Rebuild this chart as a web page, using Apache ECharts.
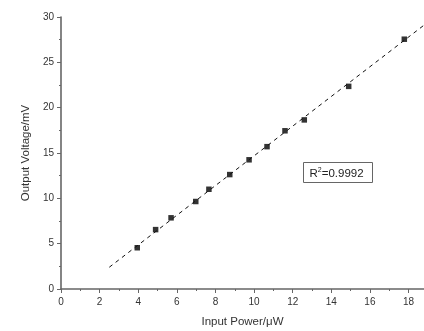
<!DOCTYPE html>
<html><head><meta charset="utf-8">
<script src="https://cdn.jsdelivr.net/npm/echarts@6/dist/echarts.min.js"></script>
<style>html,body{margin:0;padding:0;background:#fff}#c{width:424px;height:331px}</style>
</head><body><div id="c"></div>
<script>
var inputPower = [3.95, 4.9, 5.7, 6.98, 7.66, 8.74, 9.74, 10.67, 11.6, 12.6, 14.9, 17.78];
var outputVoltage = [4.55, 6.55, 7.85, 9.65, 11.0, 12.62, 14.25, 15.7, 17.45, 18.65, 22.35, 27.55];
var fitX = [2.5, 18.8];
var fitY = [2.4, 29.1];
var xTicks = [0, 2, 4, 6, 8, 10, 12, 14, 16, 18];
var yTicks = [0, 5, 10, 15, 20, 25, 30];
var r2Text = '0.9992';

var chart = echarts.init(document.getElementById('c'), null, {renderer: 'canvas'});
var axisCol = '#666';
var font = 'Liberation Sans, Arial, sans-serif';
chart.setOption({
  animation: false,
  grid: {left: 61, right: 0, top: 17, bottom: 42, outerBoundsMode: 'none', containLabel: false},
  xAxis: {
    type: 'value', min: 0, max: 18.8, interval: 2,
    name: 'Input Power/\u03bcW', nameLocation: 'middle', nameGap: 27,
    nameTextStyle: {fontFamily: font, fontSize: 11.5, color: '#333'},
    axisLine: {lineStyle: {color: axisCol, width: 1.6}},
    axisTick: {show: true, length: 4, lineStyle: {color: axisCol, width: 1}},
    minorTick: {show: true, splitNumber: 2, length: 2, lineStyle: {color: axisCol}},
    splitLine: {show: false},
    axisLabel: {fontFamily: font, fontSize: 10, color: '#333', margin: 8,
      formatter: function (v) { return xTicks.indexOf(v) >= 0 ? String(v) : ''; }}
  },
  yAxis: {
    type: 'value', min: 0, max: 30, interval: 5,
    name: 'Output Voltage/mV', nameLocation: 'middle', nameGap: 28,
    nameTextStyle: {fontFamily: font, fontSize: 11.5, color: '#333'},
    axisLine: {show: true, lineStyle: {color: axisCol, width: 1.6}},
    axisTick: {show: true, length: 4, lineStyle: {color: axisCol, width: 1}},
    minorTick: {show: true, splitNumber: 2, length: 2, lineStyle: {color: axisCol}},
    splitLine: {show: false},
    axisLabel: {fontFamily: font, fontSize: 10, color: '#333', margin: 7,
      formatter: function (v) { return yTicks.indexOf(v) >= 0 ? String(v) : ''; }}
  },
  series: [
    {
      type: 'line', data: fitX.map(function (x, i) { return [x, fitY[i]]; }),
      showSymbol: false, symbol: 'none', silent: true, clip: false,
      lineStyle: {color: '#111', width: 1, type: [4, 4]}
    },
    {
      type: 'scatter', data: inputPower.map(function (x, i) { return [x, outputVoltage[i]]; }),
      symbol: 'rect', symbolSize: 5.5, itemStyle: {color: '#000'}
    }
  ],
  graphic: [{
    type: 'group', left: 303, top: 162,
    children: [
      {type: 'rect', shape: {x: 0, y: 0, width: 69, height: 20},
       style: {fill: '#fff', stroke: '#666', lineWidth: 1}},
      {type: 'text', style: {
        text: '{r|R}{s|2}{r|=' + r2Text + '}',
        rich: {
          r: {fontFamily: font, fontSize: 11.5, fill: '#222', verticalAlign: 'bottom'},
          s: {fontFamily: font, fontSize: 7, fill: '#222', verticalAlign: 'top', padding: [0, 0, 6, 0]}
        }, x: 6, y: 4}}
    ]
  }]
});
</script></body></html>
